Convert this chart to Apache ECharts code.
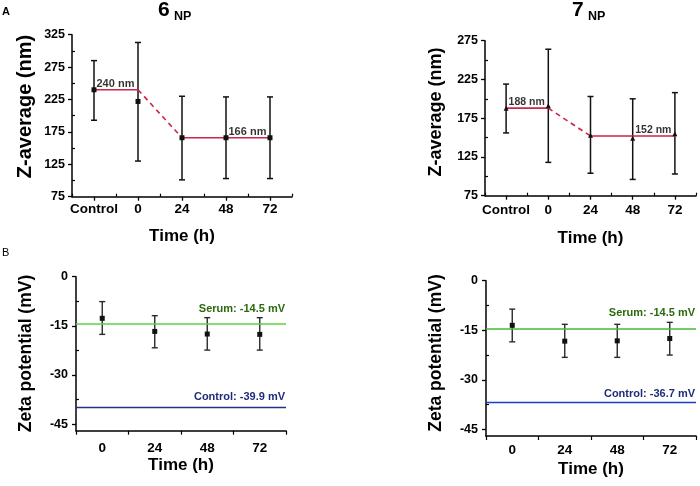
<!DOCTYPE html>
<html><head><meta charset="utf-8">
<script src="https://cdn.jsdelivr.net/npm/echarts@6/dist/echarts.min.js"></script>
<style>html,body{margin:0;padding:0;background:#fff}#c{width:700px;height:486px}</style>
</head><body><div id="c"></div>
<script>
// ---------- data ----------
const catsA = ['Control', '0', '24', '48', '72'];
const catsB = ['0', '24', '48', '72'];

// 6NP Z-average (nm)
const z6Mean  = [240, 222, 166, 166, 166];
const z6Upper = [285, 313, 230, 229, 229];
const z6Lower = [193, 130, 101, 103, 103];
const z6Fit   = [240, 240, 166, 166, 166];
const z6FitLabels = ['240 nm', '166 nm'];
const z6FitLabelAt = [0, 3];

// 7NP Z-average (nm)
const z7Mean  = [188, 191, 153, 149, 155];
const z7Upper = [219, 264, 203, 200, 208];
const z7Lower = [156, 118, 104, 96, 103];
const z7Fit   = [188, 188, 152, 152, 152];
const z7FitLabels = ['188 nm', '152 nm'];
const z7FitLabelAt = [0, 3];

// Zeta potential (mV)
const zeta6Mean  = [-12.7, -16.7, -17.5, -17.6];
const zeta6Upper = [-7.6, -11.9, -12.5, -12.5];
const zeta6Lower = [-17.6, -21.7, -22.4, -22.4];
const zeta7Mean  = [-13.5, -18.3, -18.2, -17.5];
const zeta7Upper = [-8.6, -13.2, -13.2, -12.6];
const zeta7Lower = [-18.5, -23.2, -23.2, -22.5];
const serumRef = [-14.5, -14.5];
const controlRef = [-39.9, -36.7];
const serumLabels = ['Serum: -14.5 mV', 'Serum: -14.5 mV'];
const controlLabels = ['Control: -39.9 mV', 'Control: -36.7 mV'];

// tick values
const yTicksA6 = [75, 125, 175, 225, 275, 325];
const yMinorA6 = [100, 150, 200, 250, 300];
const yTicksA7 = [75, 125, 175, 225, 275];
const yMinorA7 = [100, 150, 200, 250];
const yTicksB = [-45, -30, -15, 0];
const yMinorB = [-37.5, -22.5, -7.5];

// ---------- styling ----------
const FONT = '"Liberation Sans", Arial, Helvetica, sans-serif';
const RED = '#cc2448';
const BLACK = '#111';

const grids = [
  {left: 72, top: 34.7, width: 220, height: 162},
  {left: 485, top: 40.7, width: 211, height: 155},
  {left: 76, top: 276.7, width: 210, height: 154},
  {left: 486, top: 280.7, width: 210, height: 155.3}
];

const idx = (n) => Array.from({length: n}, (_, i) => i);
const halfIdx = (n) => Array.from({length: n + 1}, (_, i) => i - 0.5);

function xAxes(g, cats, labelMargin, nameGap, majorTicks) {
  const n = cats.length;
  return [
    {
      type: 'value', gridIndex: g, min: -0.5, max: n - 0.5, position: 'bottom',
      axisLine: {show: true, onZero: false, lineStyle: {color: '#000', width: 1.5}},
      axisTick: {show: majorTicks, customValues: idx(n), length: 4, lineStyle: {color: '#000', width: 1.3}},
      axisLabel: {customValues: idx(n), formatter: (v) => cats[Math.round(v)], fontSize: 13.5, fontWeight: 'bold',
                  color: '#000', fontFamily: FONT, margin: labelMargin},
      splitLine: {show: false},
      name: 'Time (h)', nameLocation: 'middle', nameGap: nameGap,
      nameTextStyle: {fontSize: 17, fontWeight: 'bold', color: '#000', fontFamily: FONT}
    },
    {
      type: 'value', gridIndex: g, min: -0.5, max: n - 0.5, position: 'bottom',
      axisLine: {show: false, onZero: false},
      axisTick: {show: true, customValues: halfIdx(n), length: majorTicks ? 3 : 4, inside: majorTicks,
                 lineStyle: {color: '#000', width: 1.2}},
      axisLabel: {show: false}, splitLine: {show: false}
    }
  ];
}

function yAxes(g, min, max, ticks, minor, labelSize, labelMargin) {
  return [
    {
      type: 'value', gridIndex: g, min: min, max: max, position: 'left',
      axisLine: {show: true, onZero: false, lineStyle: {color: '#000', width: 1.5}},
      axisTick: {show: true, customValues: ticks, length: 4, lineStyle: {color: '#000', width: 1.3}},
      axisLabel: {customValues: ticks, fontSize: labelSize, fontWeight: 'bold', color: '#000',
                  fontFamily: FONT, margin: labelMargin},
      splitLine: {show: false}
    },
    {
      type: 'value', gridIndex: g, min: min, max: max, position: 'left',
      axisLine: {show: false, onZero: false},
      axisTick: {show: true, customValues: minor, length: 3, inside: true, lineStyle: {color: '#000', width: 1.2}},
      axisLabel: {show: false}, splitLine: {show: false}
    }
  ];
}

function errSeries(g, upper, lower, color, width, cap) {
  return {
    type: 'custom', xAxisIndex: 2 * g, yAxisIndex: 2 * g, silent: true, z: 3,
    data: upper.map((u, i) => [i, u, lower[i]]),
    encode: {x: 0, y: [1, 2]},
    renderItem: (params, api) => {
      const t = api.coord([api.value(0), api.value(1)]);
      const b = api.coord([api.value(0), api.value(2)]);
      const st = {stroke: color, lineWidth: width};
      return {type: 'group', children: [
        {type: 'line', shape: {x1: t[0], y1: t[1], x2: b[0], y2: b[1]}, style: st},
        {type: 'line', shape: {x1: t[0] - cap, y1: t[1], x2: t[0] + cap, y2: t[1]}, style: st},
        {type: 'line', shape: {x1: b[0] - cap, y1: b[1], x2: b[0] + cap, y2: b[1]}, style: st}
      ]};
    }
  };
}

function meanSeries(g, means, symbol, size) {
  return {
    type: 'scatter', xAxisIndex: 2 * g, yAxisIndex: 2 * g, silent: true, z: 6,
    data: means.map((v, i) => [i, v]), symbol: symbol, symbolSize: size,
    itemStyle: {color: BLACK, opacity: 1}
  };
}

function fitSeries(g, fit, from, to, dashed) {
  return {
    type: 'line', xAxisIndex: 2 * g, yAxisIndex: 2 * g, silent: true, z: 4,
    data: fit.slice(from, to + 1).map((v, k) => [from + k, v]),
    symbol: 'none',
    lineStyle: {color: RED, width: 1.6, type: dashed ? [5, 4] : 'solid'}
  };
}

function fitLabelSeries(g, fit, at, labels, size) {
  return {
    type: 'scatter', xAxisIndex: 2 * g, yAxisIndex: 2 * g, silent: true, z: 7,
    symbol: 'circle', symbolSize: 1, itemStyle: {color: 'rgba(0,0,0,0)'},
    data: at.map((i, k) => ({value: [i, fit[i]], label: {formatter: labels[k]}})),
    label: {show: true, position: 'right', distance: 2, offset: [0, -6],
            fontSize: size, fontWeight: 'bold', color: '#000', fontFamily: FONT}
  };
}

function refSeries(g, k, serumColor, controlColor, serumDist, controlDist) {
  return {
    type: 'line', xAxisIndex: 2 * g, yAxisIndex: 2 * g, silent: true, data: [], z: 2,
    markLine: {
      symbol: 'none', silent: true, animation: false,
      data: [
        {yAxis: serumRef[k], lineStyle: {color: serumColor, width: 1.5, type: 'solid'},
         label: {show: true, formatter: serumLabels[k], position: 'insideEndTop', distance: serumDist,
                 color: '#2b6a0e', fontSize: 11, fontWeight: 'bold', fontFamily: FONT}},
        {yAxis: controlRef[k], lineStyle: {color: controlColor, width: 1.3, type: 'solid'},
         label: {show: true, formatter: controlLabels[k], position: 'insideEndTop', distance: controlDist,
                 color: '#1f2c78', fontSize: 11, fontWeight: 'bold', fontFamily: FONT}}
      ]
    }
  };
}

const option = {
  animation: false,
  backgroundColor: '#fff',
  grid: grids,
  xAxis: [].concat(
    xAxes(0, catsA, 6, 31, true),
    xAxes(1, catsA, 8, 34, true),
    xAxes(2, catsB, 11, 24, false),
    xAxes(3, catsB, 7, 24.5, false)
  ),
  yAxis: [].concat(
    yAxes(0, 75, 325, yTicksA6, yMinorA6, 12.5, 7),
    yAxes(1, 75, 275, yTicksA7, yMinorA7, 12.5, 7),
    yAxes(2, -47, 0, yTicksB, yMinorB, 12.5, 8),
    yAxes(3, -47, 0, yTicksB, yMinorB, 12.5, 8)
  ),
  series: [
    // 6NP
    fitSeries(0, z6Fit, 0, 1, false),
    fitSeries(0, z6Fit, 1, 2, true),
    fitSeries(0, z6Fit, 2, 4, false),
    errSeries(0, z6Upper, z6Lower, BLACK, 1.5, 3),
    meanSeries(0, z6Mean, 'rect', 5),
    fitLabelSeries(0, z6Fit, z6FitLabelAt, z6FitLabels, 11),
    // 7NP
    fitSeries(1, z7Fit, 0, 1, false),
    fitSeries(1, z7Fit, 1, 2, true),
    fitSeries(1, z7Fit, 2, 4, false),
    errSeries(1, z7Upper, z7Lower, BLACK, 1.5, 3),
    meanSeries(1, z7Mean, 'triangle', 5),
    fitLabelSeries(1, z7Fit, z7FitLabelAt, z7FitLabels, 10.5),
    // Zeta 6NP
    refSeries(2, 0, '#5ad33c', '#27307f', [1, 9.5], [1, 5.2]),
    errSeries(2, zeta6Upper, zeta6Lower, '#2a2a2a', 1.4, 3),
    meanSeries(2, zeta6Mean, 'rect', 5),
    // Zeta 7NP
    refSeries(3, 1, '#45b83a', '#1f3cc4', [1, 10.5], [1, 2.8]),
    errSeries(3, zeta7Upper, zeta7Lower, '#2a2a2a', 1.4, 3),
    meanSeries(3, zeta7Mean, 'rect', 5)
  ],
  graphic: [
    {type: 'text', left: 2, top: 6, style: {text: 'A', font: 'bold 11px ' + FONT, fill: '#000'}},
    {type: 'text', left: 2, top: 247, style: {text: 'B', font: '11px ' + FONT, fill: '#000'}},
    {type: 'text', x: 158, y: 10.7, style: {text: '6', font: 'bold 21px ' + FONT, fill: '#000', verticalAlign: 'middle'}},
    {type: 'text', x: 174, y: 16.2, style: {text: 'NP', font: 'bold 12.5px ' + FONT, fill: '#000', verticalAlign: 'middle'}},
    {type: 'text', x: 572, y: 10.7, style: {text: '7', font: 'bold 21px ' + FONT, fill: '#000', verticalAlign: 'middle'}},
    {type: 'text', x: 588, y: 16.2, style: {text: 'NP', font: 'bold 12.5px ' + FONT, fill: '#000', verticalAlign: 'middle'}},
    {type: 'text', x: 25, y: 106.5, rotation: Math.PI / 2,
     style: {text: 'Z-average (nm)', font: 'bold 20px ' + FONT, fill: '#000', align: 'center', verticalAlign: 'middle'}},
    {type: 'text', x: 436, y: 112, rotation: Math.PI / 2,
     style: {text: 'Z-average (nm)', font: 'bold 18px ' + FONT, fill: '#000', align: 'center', verticalAlign: 'middle'}},
    {type: 'text', x: 26, y: 353.5, rotation: Math.PI / 2,
     style: {text: 'Zeta potential (mV)', font: 'bold 17.5px ' + FONT, fill: '#000', align: 'center', verticalAlign: 'middle'}},
    {type: 'text', x: 436, y: 353, rotation: Math.PI / 2,
     style: {text: 'Zeta potential (mV)', font: 'bold 17.5px ' + FONT, fill: '#000', align: 'center', verticalAlign: 'middle'}}
  ]
};

const chart = echarts.init(document.getElementById('c'), null, {renderer: 'canvas'});
chart.setOption(option);
</script>
</body></html>
